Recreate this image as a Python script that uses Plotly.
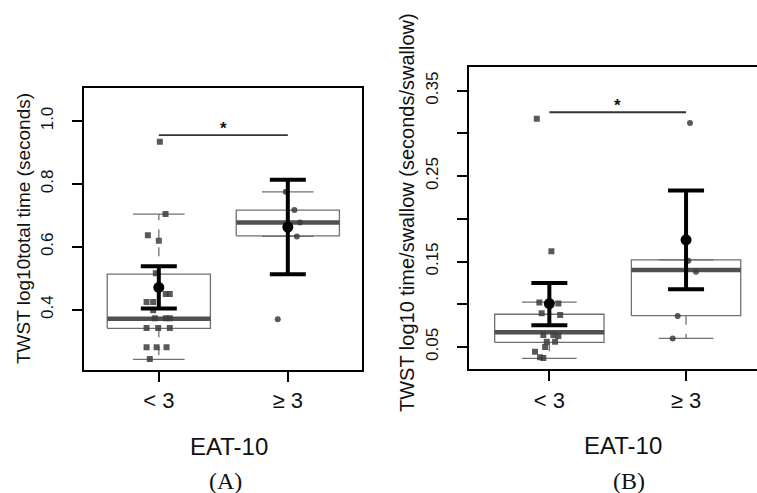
import plotly.graph_objects as go

W, H = 757, 493

# ---------------- data ----------------
categories = ["< 3", "\u2265 3"]
cat_pos = [1, 2]

# Panel A: TWST log10 total time (seconds)
A_q1 = [0.341, 0.635]
A_median = [0.371, 0.677]
A_q3 = [0.513, 0.717]
A_whisk_lo = [0.242, 0.633]
A_whisk_hi = [0.704, 0.775]
A_mean = [0.471, 0.663]
A_ci_lo = [0.404, 0.513]
A_ci_hi = [0.538, 0.813]
A_g1_vals = [0.934, 0.704, 0.637, 0.619, 0.516, 0.450, 0.450, 0.425, 0.425, 0.398,
             0.373, 0.373, 0.373, 0.342, 0.342, 0.342, 0.281, 0.281, 0.281, 0.243]
A_g1_jit = [0.008, 0.052, -0.085, 0.0, -0.023, 0.054, 0.085, -0.095, -0.044, -0.044,
            -0.031, 0.054, 0.085, -0.095, -0.005, 0.085, -0.095, -0.017, 0.060, -0.070]
A_g2_vals = [0.775, 0.717, 0.677, 0.633, 0.370]
A_g2_jit = [-0.016, 0.051, 0.095, 0.070, -0.078]
A_sig_y = 0.955
A_star_y = 0.976
A_yticks = [0.4, 0.6, 0.8, 1.0]
A_yticklabels = ["0.4", "0.6", "0.8", "1.0"]

# Panel B: TWST log10 time/swallow (seconds/swallow)
B_q1 = [0.0555, 0.0867]
B_median = [0.0672, 0.140]
B_q3 = [0.0883, 0.152]
B_whisk_lo = [0.0367, 0.060]
B_whisk_hi = [0.1024, 0.152]
B_mean = [0.1008, 0.1754]
B_ci_lo = [0.0755, 0.1176]
B_ci_hi = [0.1250, 0.233]
B_g1_vals = [0.317, 0.162, 0.102, 0.101, 0.0895, 0.0875, 0.064, 0.064, 0.063,
             0.056, 0.056, 0.050, 0.0445, 0.038, 0.037]
B_g1_jit = [-0.092, 0.015, -0.073, 0.066, -0.056, 0.079, -0.044, 0.029, 0.066,
            -0.019, 0.042, -0.031, -0.105, -0.068, -0.044]
B_g2_vals = [0.312, 0.151, 0.138, 0.0863, 0.060]
B_g2_jit = [0.029, 0.017, 0.073, -0.061, -0.098]
B_sig_y = 0.3247
B_star_y = 0.3322
B_yticks = [0.05, 0.10, 0.15, 0.20, 0.25, 0.30, 0.35]
B_yticklabels = ["0.05", "", "0.15", "", "0.25", "", "0.35"]

# ---------------- style ----------------
BOX_W = 0.4      # half box width (x units)
STAPLE_W = 0.2   # half staple width
BOX_COLOR = "#707070"
MED_COLOR = "#505050"
PT_COLOR = "rgba(60,60,60,0.85)"
FONT = "Liberation Sans, Arial, sans-serif"

fig = go.Figure()


def add_panel(xa, ya, q1, med, q3, wlo, whi, mean, cilo, cihi,
              g1v, g1j, g2v, g2j, sig_y, star_y):
    for i, c in enumerate(cat_pos):
        # box
        fig.add_trace(go.Scatter(
            x=[c - BOX_W, c + BOX_W, c + BOX_W, c - BOX_W, c - BOX_W],
            y=[q1[i], q1[i], q3[i], q3[i], q1[i]],
            mode="lines", line=dict(color=BOX_COLOR, width=1.3),
            fill="toself", fillcolor="white",
            xaxis=xa, yaxis=ya, hoverinfo="skip", showlegend=False))
        # whiskers (dashed)
        fig.add_trace(go.Scatter(
            x=[c, c, None, c, c], y=[q3[i], whi[i], None, q1[i], wlo[i]],
            mode="lines", line=dict(color=BOX_COLOR, width=1.3, dash="dash"),
            xaxis=xa, yaxis=ya, hoverinfo="skip", showlegend=False))
        # staples
        fig.add_trace(go.Scatter(
            x=[c - STAPLE_W, c + STAPLE_W, None, c - STAPLE_W, c + STAPLE_W],
            y=[whi[i], whi[i], None, wlo[i], wlo[i]],
            mode="lines", line=dict(color=BOX_COLOR, width=1.3),
            xaxis=xa, yaxis=ya, hoverinfo="skip", showlegend=False))
        # median
        fig.add_trace(go.Scatter(
            x=[c - BOX_W, c + BOX_W], y=[med[i], med[i]],
            mode="lines", line=dict(color=MED_COLOR, width=4.5),
            xaxis=xa, yaxis=ya, hoverinfo="skip", showlegend=False))
    # jittered points
    fig.add_trace(go.Scatter(
        x=[cat_pos[0] + j for j in g1j], y=g1v, mode="markers",
        marker=dict(symbol="square", size=6, color=PT_COLOR),
        xaxis=xa, yaxis=ya, showlegend=False))
    fig.add_trace(go.Scatter(
        x=[cat_pos[1] + j for j in g2j], y=g2v, mode="markers",
        marker=dict(symbol="circle", size=6, color=PT_COLOR),
        xaxis=xa, yaxis=ya, showlegend=False))
    # mean with CI
    fig.add_trace(go.Scatter(
        x=cat_pos, y=mean, mode="markers",
        marker=dict(symbol="circle", size=11, color="black"),
        error_y=dict(type="data", symmetric=False,
                     array=[h - m for h, m in zip(cihi, mean)],
                     arrayminus=[m - l for m, l in zip(mean, cilo)],
                     color="black", thickness=4, width=18),
        xaxis=xa, yaxis=ya, showlegend=False))
    # significance bar
    fig.add_trace(go.Scatter(
        x=cat_pos, y=[sig_y, sig_y], mode="lines",
        line=dict(color="#333333", width=1.8),
        xaxis=xa, yaxis=ya, hoverinfo="skip", showlegend=False))
    fig.add_annotation(x=sum(cat_pos) / 2, y=star_y, xref=xa, yref=ya,
                       text="<b>*</b>", showarrow=False,
                       font=dict(family=FONT, size=17, color="#111111"))


add_panel("x", "y", A_q1, A_median, A_q3, A_whisk_lo, A_whisk_hi, A_mean,
          A_ci_lo, A_ci_hi, A_g1_vals, A_g1_jit, A_g2_vals, A_g2_jit,
          A_sig_y, A_star_y)
add_panel("x2", "y2", B_q1, B_median, B_q3, B_whisk_lo, B_whisk_hi, B_mean,
          B_ci_lo, B_ci_hi, B_g1_vals, B_g1_jit, B_g2_vals, B_g2_jit,
          B_sig_y, B_star_y)

axis_common = dict(showgrid=False, zeroline=False, ticks="outside", ticklen=10,
                   tickwidth=1.5, tickcolor="black", showline=True,
                   linecolor="black", linewidth=2)


def px_x(p):
    return p / W


def px_y(p):
    return 1 - p / H


xtick_font = dict(family=FONT, size=22, color="#111111")
ytick_font = dict(family=FONT, size=17, color="#111111")

fig.update_layout(
    width=W, height=H, margin=dict(l=0, r=0, t=0, b=0),
    paper_bgcolor="white", plot_bgcolor="white", showlegend=False,
    xaxis=dict(domain=[px_x(84), px_x(362)], range=[0.42, 2.575],
               tickvals=cat_pos, ticktext=categories, mirror=True,
               anchor="y", ticklabelstandoff=0, tickfont=xtick_font, **axis_common),
    yaxis=dict(domain=[px_y(369.5), px_y(88)], range=[0.21, 1.105],
               tickvals=A_yticks, ticktext=A_yticklabels, tickangle=-90,
               mirror=True, anchor="x", ticklabelstandoff=12,
               tickfont=ytick_font, **axis_common),
    xaxis2=dict(domain=[px_x(468.7), 1.0], range=[0.41, 2.519],
                tickvals=cat_pos, ticktext=categories, mirror=True,
                anchor="y2", ticklabelstandoff=0, tickfont=xtick_font, **axis_common),
    yaxis2=dict(domain=[px_y(369.3), px_y(66.7)], range=[0.0239, 0.378],
                tickvals=B_yticks, ticktext=B_yticklabels, tickangle=-90,
                mirror=False, anchor="x2", ticklabelstandoff=12,
                tickfont=ytick_font, **axis_common),
)

texts = [
    ("TWST log10total time (seconds)", 23, 229, 19, -90, FONT),
    ("TWST log10 time/swallow (seconds/swallow)", 407, 213, 20, -90, FONT),
    ("EAT-10", 228.8, 446, 24, 0, FONT),
    ("EAT-10", 623, 445, 24, 0, FONT),
    ("(A)", 225.5, 481, 24, 0, "Liberation Serif, Times New Roman, serif"),
    ("(B)", 628.5, 481, 24, 0, "Liberation Serif, Times New Roman, serif"),
]
for t, x, y, s, ang, fam in texts:
    fig.add_annotation(text=t, x=px_x(x), y=px_y(y), xref="paper", yref="paper",
                       xanchor="center", yanchor="middle", showarrow=False,
                       textangle=ang, font=dict(family=fam, size=s, color="#111111"))

fig.write_html(
    "out.html",
    config={"displayModeBar": False},
    post_script="document.body.style.margin='0';document.body.style.padding='0';"
                "document.documentElement.style.overflow='hidden';",
)
